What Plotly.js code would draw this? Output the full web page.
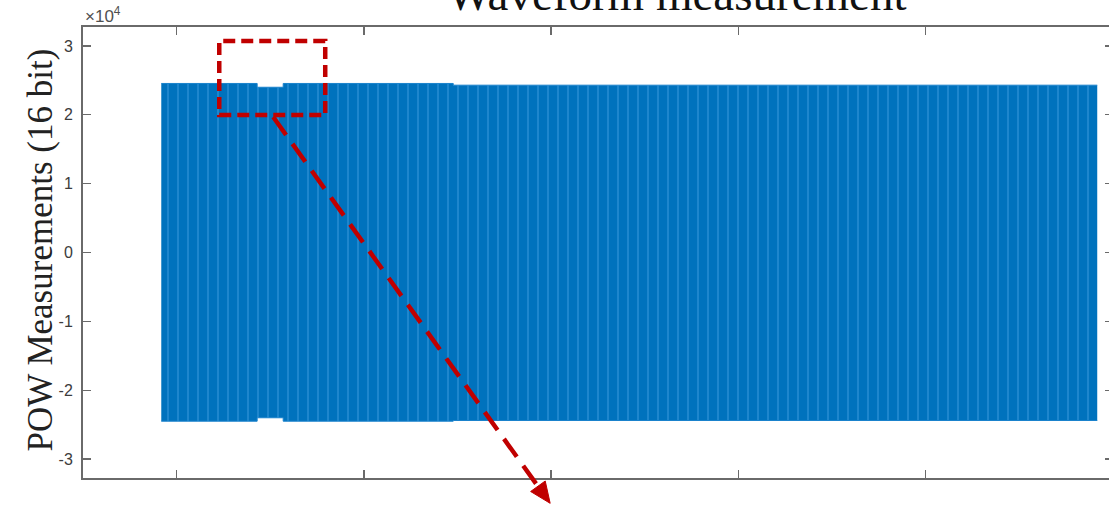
<!DOCTYPE html>
<html>
<head>
<meta charset="utf-8">
<script src="https://cdn.plot.ly/plotly-3.0.1.min.js"></script>
<style>
  html, body { margin: 0; padding: 0; background: #ffffff; overflow: hidden; }
  #chart { width: 1120px; height: 505px; }
</style>
</head>
<body>
<div id="chart"></div>
<script>
// Envelope breakpoints of the point-on-wave record (x in arbitrary sample units, ×1e5)
const envX     = [0.918, 1.430, 1.569, 2.477, 5.916];
const envUpper = [24550, 24000, 24550, 24300, 24300];
const envLower = [-24500, -24000, -24500, -24400, -24400];

const yTickVals = [-30000, -20000, -10000, 0, 10000, 20000, 30000];
const yTickText = ['-3', '-2', '-1', '0', '1', '2', '3'];
const xTickVals = [1, 2, 3, 4, 5, 6];

const titleText = 'Waveform measurement';
const yLabelText = 'POW Measurements (16 bit)';
const exponentText = '\u00d710<sup>4</sup>';

const blue = '#0072BD';
const red = '#C00000';
const axisGrey = '#6a6a6a';

// plot-area geometry helpers (paper coordinates from pixel offsets)
const L = 82.7, R = 1113, T = 27, B = 477.7;
const px = v => (v - L) / (R - L);
const py = v => (B - v) / (B - T);

const traces = [
  {
    x: envX, y: envUpper, type: 'scatter', mode: 'lines',
    line: { shape: 'hv', width: 1, color: '#1a82cc' },
    hoverinfo: 'skip', showlegend: false
  },
  {
    x: envX, y: envLower, type: 'scatter', mode: 'lines',
    line: { shape: 'hv', width: 1, color: '#1a82cc' },
    fill: 'tonexty', fillcolor: blue,
    fillpattern: { shape: '|', fgcolor: '#3c9ade', bgcolor: blue, size: 10, solidity: 0.1, fillmode: 'replace' },
    hoverinfo: 'skip', showlegend: false
  }
];

// arrow geometry (pixels)
const a0 = [273, 117], tip = [550, 503];
const dx = tip[0] - a0[0], dy = tip[1] - a0[1];
const len = Math.hypot(dx, dy);
const ux = dx / len, uy = dy / len;
const headLen = 21, headHalf = 9;
const bx = tip[0] - headLen * ux, by = tip[1] - headLen * uy;
const c1 = [bx - headHalf * uy, by + headHalf * ux];
const c2 = [bx + headHalf * uy, by - headHalf * ux];
const lineEnd = [tip[0] - (headLen - 2) * ux, tip[1] - (headLen - 2) * uy];

const layout = {
  width: 1120, height: 505,
  margin: { l: L, r: 1120 - R, t: T, b: 505 - B, pad: 0 },
  paper_bgcolor: '#ffffff', plot_bgcolor: '#ffffff',
  font: { family: '"Liberation Sans", Arial, sans-serif', size: 16, color: '#404040' },
  xaxis: {
    range: [0.5, 6], tickvals: xTickVals, showticklabels: false,
    ticks: 'inside', ticklen: 8, tickwidth: 1.4, tickcolor: axisGrey,
    showline: true, linecolor: axisGrey, linewidth: 2, mirror: 'ticks',
    showgrid: false, zeroline: false
  },
  yaxis: {
    range: [-32750, 32750], tickvals: yTickVals, ticktext: yTickText,
    ticks: 'inside', ticklen: 8, tickwidth: 1.4, tickcolor: axisGrey,
    showline: true, linecolor: axisGrey, linewidth: 2, mirror: 'ticks',
    showgrid: false, zeroline: false, ticklabelstandoff: 5,
    tickfont: { family: '"Liberation Sans", Arial, sans-serif', size: 16, color: '#3c3c3c' }
  },
  annotations: [
    {
      text: titleText, xref: 'paper', yref: 'paper',
      x: px(677), y: py(22), xanchor: 'center', yanchor: 'bottom',
      showarrow: false,
      font: { family: '"Liberation Serif", "Times New Roman", serif', size: 47, color: '#111111' }
    },
    {
      text: yLabelText, xref: 'paper', yref: 'paper', textangle: -90,
      x: px(40), y: py(250), xanchor: 'center', yanchor: 'middle',
      showarrow: false,
      font: { family: '"Liberation Serif", "Times New Roman", serif', size: 35, color: '#222222' }
    },
    {
      text: exponentText, xref: 'paper', yref: 'paper',
      x: px(83), y: py(15), xanchor: 'left', yanchor: 'middle',
      showarrow: false,
      font: { family: '"Liberation Sans", Arial, sans-serif', size: 17, color: '#505050' }
    }
  ],
  shapes: [
    {
      type: 'rect', xref: 'paper', yref: 'paper',
      x0: px(219), x1: px(325), y0: py(115), y1: py(41),
      line: { color: red, width: 4.5, dash: '12px,6px' }, layer: 'above'
    },
    {
      type: 'line', xref: 'paper', yref: 'paper',
      x0: px(a0[0]), y0: py(a0[1]), x1: px(lineEnd[0]), y1: py(lineEnd[1]),
      line: { color: red, width: 4.5, dash: '22px,11px' }, layer: 'above'
    },
    {
      type: 'path', xref: 'paper', yref: 'paper',
      path: 'M ' + px(tip[0]) + ' ' + py(tip[1]) + ' L ' + px(c1[0]) + ' ' + py(c1[1]) +
            ' L ' + px(c2[0]) + ' ' + py(c2[1]) + ' Z',
      fillcolor: red, line: { color: red, width: 1 }, layer: 'above'
    }
  ]
};

Plotly.newPlot('chart', traces, layout, { staticPlot: true, displayModeBar: false });
</script>
</body>
</html>
